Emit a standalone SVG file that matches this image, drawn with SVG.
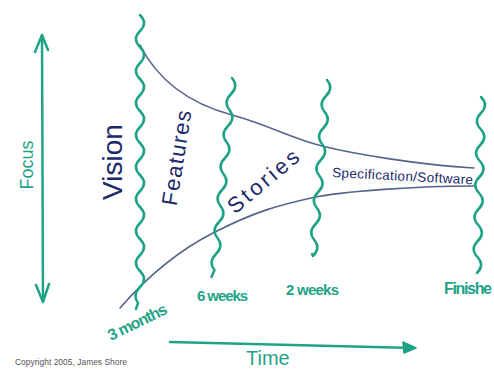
<svg xmlns="http://www.w3.org/2000/svg" width="494" height="370" viewBox="0 0 494 370">
<style>
.wave{fill:none;stroke:#1fa386;stroke-width:2.5;stroke-linecap:round;stroke-linejoin:round}
.curve{fill:none;stroke:#56638a;stroke-width:1.6;stroke-linecap:round}
.arrow{fill:none;stroke:#1fa386;stroke-width:2.5;stroke-linecap:round;stroke-linejoin:round}
.phase{font-family:"Liberation Sans",Arial,sans-serif;fill:#1c2a6c}
.lbl{font-family:"Liberation Sans",Arial,sans-serif;fill:#1fa386;font-size:15px;font-weight:bold}
.copy{font-family:"Liberation Sans",Arial,sans-serif;fill:#555;font-size:8.4px}
</style>
<rect width="494" height="370" fill="#ffffff"/>
<g id="connectors">
  <path id="upper-curve" class="curve" d="M140,45 C160,85 195,105 232,115 S290,138 322,146 S420,165 474,168"/>
  <path id="lower-curve" class="curve" d="M120,308 C140,285 170,255 213,233 S280,205 311,198 S420,186 474,186"/>
</g>
<g id="focus-axis">
  <path class="arrow" d="M42,36 L43,301"/>
  <path class="arrow" d="M35,52 L42,35 L48,50"/>
  <path class="arrow" d="M36,285 L43,302 L49,284"/>
  <text class="lbl" transform="translate(33,165) rotate(-90)" text-anchor="middle" style="font-size:18px;font-weight:normal">Focus</text>
</g>
<g id="time-axis">
  <path class="arrow" d="M170,342 L414,348"/>
  <path d="M416,348 L403,342 L404,353 Z" fill="#1fa386" stroke="#1fa386" stroke-width="1.5" stroke-linejoin="round"/>
  <text class="lbl" x="246" y="365" style="font-size:20px;font-weight:normal">Time</text>
</g>
<g id="vision-line">
  <path class="wave" d="M140,15 q8,8 0,16 t0,16 t0,16 t0,16 t0,16 t0,16 t0,16 t0,16 t0,16 t0,16 t0,16 t0,16 t0,16 t0,16 t0,16 t0,16 t0,16 t-2,16 l-2,6"/>
  <text class="lbl" transform="translate(111,341) rotate(-26)" style="font-size:16px" textLength="64">3 months</text>
</g>
<g id="six-weeks-line">
  <path class="wave" d="M232,78 q7,8 -1,16 t-1.5,16 t-1.5,16 t-1.5,16 t-1.5,16 t-1.5,16 t-1.5,16 t-1.5,16 t-1.5,16 t-1.5,16 t-1.5,16 t-1.5,16 l-3,7"/>
  <text class="lbl" x="197" y="301" textLength="51">6 weeks</text>
</g>
<g id="two-weeks-line">
  <path class="wave" d="M327,80 q7,8 -1,16 t-1.3,16 t-1.3,16 t-1.3,16 t-1.3,16 t-1.3,16 t-1.3,16 t-1.3,16 t-1.3,16 t-1.3,16 t-1.3,16 l-1,-2"/>
  <text class="lbl" x="286" y="295" textLength="53">2 weeks</text>
</g>
<g id="finish-line">
  <path class="wave" d="M481,97 q8,8 0,16 t-0.4,16 t-0.4,16 t-0.4,16 t-0.4,16 t-0.4,16 t-0.4,16 t-0.4,16 t-0.4,16 t-0.4,16 t-0.4,16"/>
  <text class="lbl" x="444" y="294" style="font-size:16px" textLength="48">Finishe</text>
</g>
<g id="vision">
  <text class="phase" transform="translate(122,162) rotate(-90)" text-anchor="middle" style="font-size:28px">Vision</text>
</g>
<g id="features">
  <text class="phase" transform="translate(184,159) rotate(-81)" text-anchor="middle" style="font-size:22px" textLength="96">Features</text>
</g>
<g id="stories">
  <text class="phase" transform="translate(268,187) rotate(-40)" text-anchor="middle" style="font-size:22px" textLength="86">Stories</text>
</g>
<g id="specification">
  <text class="phase" transform="translate(332,177) rotate(3)" style="font-size:13.5px" textLength="141">Specification/Software</text>
</g>
<g id="copyright">
  <text class="copy" x="15" y="365" textLength="112">Copyright 2005, James Shore</text>
</g>
</svg>
